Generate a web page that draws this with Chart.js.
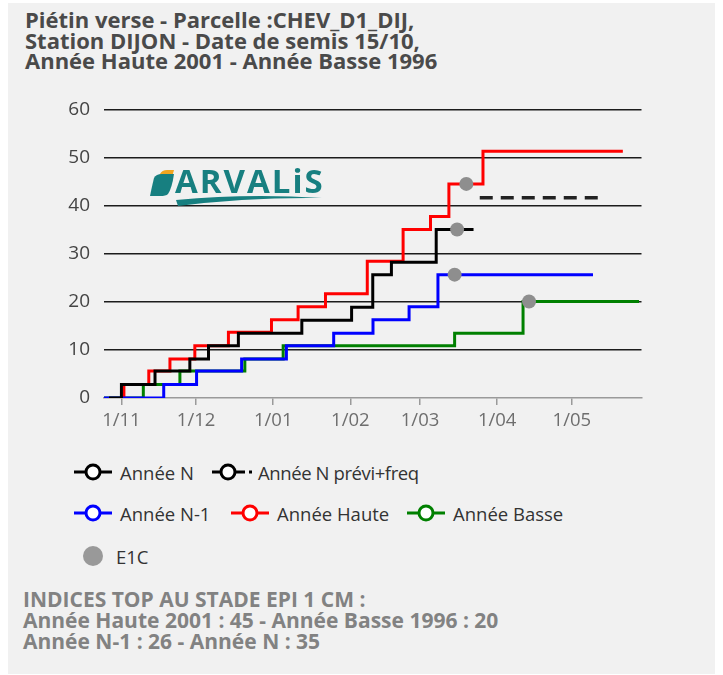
<!DOCTYPE html>
<html>
<head>
<meta charset="utf-8">
<script src="https://cdn.jsdelivr.net/npm/chart.js@4.4.0/dist/chart.umd.min.js"></script>
<style>
  html, body { margin:0; padding:0; background:#fff; width:723px; height:675px; overflow:hidden; }
  body { position:relative; font-family:"Open Sans", "Noto Sans", sans-serif; }
  #panel { position:absolute; left:8px; top:3px; width:707px; height:671px; background:#f1f1f1; }
  #title { position:absolute; left:25px; top:9px; font-size:22px; line-height:20.6px; font-weight:700; color:#4a4a4a; white-space:nowrap; }
  #footer { position:absolute; left:23px; top:589px; font-size:21px; line-height:21px; font-weight:700; color:#828282; white-space:nowrap; }
  #chartWrap { position:absolute; left:0; top:90px; width:723px; height:340px; }
  #chartWrap canvas { display:block; }
  .leg { position:absolute; height:24px; display:flex; align-items:center; font-size:18.5px; color:#333; white-space:nowrap; }
  .leg svg { display:block; }
  #logo { position:absolute; left:148px; top:166px; width:200px; height:44px; }
  #logoText { position:absolute; left:27px; top:-4px; font-size:33px; font-weight:700; color:#177f80; letter-spacing:2px; line-height:38px; }
</style>
</head>
<body>
<div id="panel"></div>
<div id="title">Piétin verse - Parcelle :CHEV_D1_DIJ,<br>Station DIJON - Date de semis 15/10,<br>Année Haute 2001 - Année Basse 1996</div>
<div id="chartWrap"><canvas id="c" width="723" height="340"></canvas></div>
<div id="logo">
  <svg width="200" height="44" style="position:absolute;left:0;top:0">
    <path d="M12 8 Q14 4 19 4 L26 4 L24 11 L10 11 Z" fill="#f2a51f"/>
    <path d="M6 12 Q8 8 14 8 L26 8 Q24 22 20 28 Q18 30 12 30 L2 30 Q4 20 6 12 Z" fill="#177f80"/>
    <path d="M28 34 Q100 27 174 32 Q100 31 30 40 Z" fill="#177f80"/>
  </svg>
  <div id="logoText">ARVALiS</div>
</div>

<div class="leg" style="left:73px;top:460px;">
  <svg width="40" height="20"><line x1="1" y1="10" x2="39" y2="10" stroke="#000" stroke-width="3"/><circle cx="20" cy="10" r="7" fill="#fff" stroke="#000" stroke-width="3"/></svg>
  <span style="margin-left:7px">Année N</span>
</div>
<div class="leg" style="left:211px;top:460px;">
  <svg width="44" height="20"><line x1="1" y1="10" x2="34" y2="10" stroke="#000" stroke-width="3"/><circle cx="17" cy="10" r="7" fill="#fff" stroke="#000" stroke-width="3"/><rect x="38" y="8.5" width="3" height="3" fill="#000"/></svg>
  <span style="margin-left:3px;letter-spacing:-0.4px">Année N prévi+freq</span>
</div>
<div class="leg" style="left:73px;top:501px;">
  <svg width="40" height="20"><line x1="1" y1="10" x2="39" y2="10" stroke="#0000ff" stroke-width="3"/><circle cx="20" cy="10" r="7" fill="#fff" stroke="#0000ff" stroke-width="3"/></svg>
  <span style="margin-left:7px">Année N-1</span>
</div>
<div class="leg" style="left:230px;top:501px;">
  <svg width="40" height="20"><line x1="1" y1="10" x2="39" y2="10" stroke="#ff0000" stroke-width="3"/><circle cx="20" cy="10" r="7" fill="#fff" stroke="#ff0000" stroke-width="3"/></svg>
  <span style="margin-left:7px">Année Haute</span>
</div>
<div class="leg" style="left:406px;top:501px;">
  <svg width="40" height="20"><line x1="1" y1="10" x2="39" y2="10" stroke="#008000" stroke-width="3"/><circle cx="20" cy="10" r="7" fill="#fff" stroke="#008000" stroke-width="3"/></svg>
  <span style="margin-left:7px">Année Basse</span>
</div>
<div class="leg" style="left:73px;top:544px;">
  <svg width="40" height="24"><circle cx="20" cy="12" r="10" fill="#999"/></svg>
  <span style="margin-left:3px">E1C</span>
</div>

<div id="footer">INDICES TOP AU STADE EPI 1 CM :<br>Année Haute 2001 : 45 - Année Basse 1996 : 20<br>Année N-1 : 26 - Année N : 35</div>

<script>
// x values are days counted from 1 November (1/11 = 0)
const tickDays   = [0, 30, 61, 92, 120, 151, 181];
const tickLabels = ["1/11", "1/12", "1/01", "1/02", "1/03", "1/04", "1/05"];

const anneeNDays = [-5, 0, 13.5, 27.5, 35, 47, 72.5, 92.5, 101, 108.5, 126.5, 141.5];
const anneeNVals = [0, 2.8, 5.6, 8.1, 10.9, 13.5, 16.2, 18.9, 25.7, 28.3, 35.1, 35.1];

const previDays = [144, 193];
const previVals = [41.7, 41.7];

const anneeN1Days = [-7, 17, 30.2, 48.3, 66.3, 85.3, 101.1, 115.6, 127.2, 189.5];
const anneeN1Vals = [0, 2.8, 5.6, 8.1, 10.9, 13.5, 16.3, 19.0, 25.7, 25.7];

const hauteDays = [0, 1, 11, 19.5, 29.5, 43, 60.3, 71, 82, 98.8, 113.2, 124.2, 131.6, 145.3, 201.5];
const hauteVals = [0, 2.8, 5.6, 8.1, 10.9, 13.7, 16.3, 19.0, 21.7, 28.5, 35.1, 37.8, 44.6, 51.4, 51.4];

const basseDays = [-7, 8.8, 23.5, 49.6, 65, 133.9, 161.4, 208];
const basseVals = [0, 2.8, 5.6, 8.1, 10.9, 13.5, 20.1, 20.1];

const e1cDays = [138.6, 134.9, 133.9, 163.8];
const e1cVals = [44.6, 35.1, 25.7, 20.1];

const pts = (xs, ys) => xs.map((x, i) => ({ x: x, y: ys[i] }));

const lineDs = (label, xs, ys, color, extra) => Object.assign({
  label: label, data: pts(xs, ys), borderColor: color, backgroundColor: color,
  borderWidth: 3, pointRadius: 0, stepped: 'before', fill: false
}, extra || {});

// desired plot-area box inside the canvas (canvas sits at page y = 90)
const AREA = { left: 104, right: 641.5, top: 20, bottom: 308 };

const chart = new Chart(document.getElementById('c'), {
  type: 'line',
  data: {
    datasets: [
      { label: 'E1C', type: 'scatter', data: pts(e1cDays, e1cVals), backgroundColor: '#8e8e8e', borderColor: '#8e8e8e', pointRadius: 7, pointBorderWidth: 0, order: 0 },
      lineDs('Année N', anneeNDays, anneeNVals, '#000000', { order: 1 }),
      lineDs('Année N prévi+freq', previDays, previVals, '#222222', { borderDash: [13, 8], borderWidth: 3.5, stepped: false, order: 2 }),
      lineDs('Année N-1', anneeN1Days, anneeN1Vals, '#0000ff', { order: 3 }),
      lineDs('Année Haute', hauteDays, hauteVals, '#ff0000', { order: 4 }),
      lineDs('Année Basse', basseDays, basseVals, '#008000', { order: 5 })
    ]
  },
  options: {
    responsive: false,
    animation: false,
    devicePixelRatio: 1,
    layout: { padding: { left: 0, right: 81, top: 20, bottom: 0 } },
    plugins: { legend: { display: false }, tooltip: { enabled: false }, title: { display: false } },
    scales: {
      x: {
        type: 'linear', min: -7, max: 209,
        afterBuildTicks: (s) => { s.ticks = tickDays.map(v => ({ value: v })); },
        afterFit: (s) => { s.height = 32; s.paddingLeft = 0; s.paddingRight = 0; },
        ticks: {
          autoSkip: false, maxRotation: 0, padding: 5,
          color: '#6e6e6e', font: { family: 'Open Sans', size: 18.5 },
          callback: (v) => { const i = tickDays.indexOf(v); return i >= 0 ? tickLabels[i] : ''; }
        },
        grid: { drawOnChartArea: false, drawTicks: true, tickLength: 7, color: '#9a9a9a', lineWidth: 1.5 },
        border: { display: true, color: '#9a9a9a', width: 1.5 }
      },
      y: {
        min: 0, max: 60,
        afterFit: (s) => { s.width = 104; s.paddingTop = 0; s.paddingBottom = 0; },
        ticks: { stepSize: 10, padding: 14, color: '#444', font: { family: 'Open Sans', size: 19 } },
        grid: { drawTicks: false, lineWidth: 1.5, color: (ctx) => (ctx.tick && ctx.tick.value === 0) ? 'rgba(0,0,0,0)' : '#1c1c1c' },
        border: { display: false }
      }
    }
  }
});

// nudge the layout padding so the plot area lands where the reference has it
for (let k = 0; k < 3; k++) {
  const a = chart.chartArea, p = chart.options.layout.padding;
  p.top += AREA.top - a.top;
  p.bottom += a.bottom - AREA.bottom;
  p.left += AREA.left - a.left;
  p.right += a.right - AREA.right;
  chart.update('none');
}
</script>
</body>
</html>
